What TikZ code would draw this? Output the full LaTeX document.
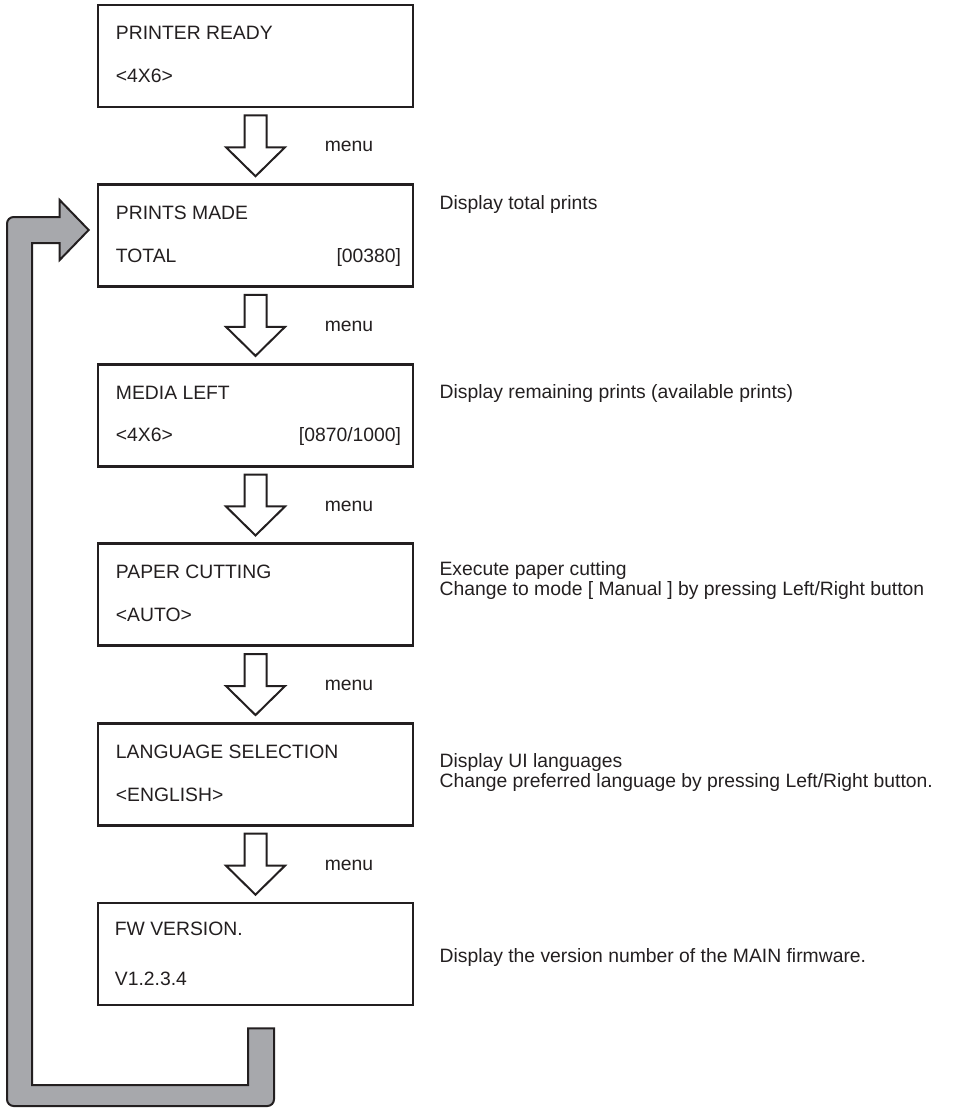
\documentclass[tikz,border=0pt]{standalone}
\usepackage{fontspec}
\setmainfont{Liberation Sans}
\usetikzlibrary{calc}
\definecolor{ink}{HTML}{231F20}
\definecolor{retgray}{HTML}{A7A8AC}
\tikzset{
  box/.style={draw=ink, line width=2pt, minimum width=236.25pt, minimum height=76.5pt, inner sep=0pt, fill=white},
  txt/.style={text=ink, inner sep=0pt, font=\fontsize{14.5pt}{15pt}\selectfont},
  flow/.style={draw=ink, line width=1.5pt, fill=white, line join=miter},
  ret/.style={draw=ink, line width=1.5pt, fill=retgray, line join=miter},
}
\newcommand\menuarrow[2]{%
  \draw[flow] ($(#1.south)+(-11,7)$) -- ($(#1.south)+(11,7)$) -- ($(#2.north)+(11,-36)$) -- ($(#2.north)+(29.5,-36)$) -- ($(#2.north)+(0,-7)$) -- ($(#2.north)+(-29.5,-36)$) -- ($(#2.north)+(-11,-36)$) -- cycle;
  \node[txt, anchor=base] (m#2) at ($(#1.south)!0.5!(#2.north)+(93.5,6)$) {menu};}
\begin{document}
\begin{tikzpicture}[x=0.75pt, y=-0.75pt]
\useasboundingbox (0,0) rectangle (966,1108);
% boxes
\node[box] (b1) at (255.5,56) {};
\node[box] (b2) at (255.5,235.6) {};
\node[box] (b3) at (255.5,415.2) {};
\node[box] (b4) at (255.5,594.8) {};
\node[box] (b5) at (255.5,774.4) {};
\node[box] (b6) at (255.5,954) {};
% box texts
\node[txt, anchor=base west] (b1a) at ($(b1.north west)+(19,36)$) {PRINTER READY};
\node[txt, anchor=base west] (b1b) at ($(b1.north west)+(19,79)$) {<4X6>};
\node[txt, anchor=base west] (b2a) at ($(b2.north west)+(19,36)$) {PRINTS MADE};
\node[txt, anchor=base west] (b2b) at ($(b2.north west)+(19,79)$) {TOTAL};
\node[txt, anchor=base east] (b2c) at ($(b2.north east)+(-13,79)$) {[00380]};
\node[txt, anchor=base west] (b3a) at ($(b3.north west)+(19,37)$) {MEDIA LEFT};
\node[txt, anchor=base west] (b3b) at ($(b3.north west)+(19,79)$) {<4X6>};
\node[txt, anchor=base east] (b3c) at ($(b3.north east)+(-13,79)$) {[0870/1000]};
\node[txt, anchor=base west] (b4a) at ($(b4.north west)+(19,36)$) {PAPER CUTTING};
\node[txt, anchor=base west] (b4b) at ($(b4.north west)+(19,79)$) {<AUTO>};
\node[txt, anchor=base west] (b5a) at ($(b5.north west)+(19,36)$) {LANGUAGE SELECTION};
\node[txt, anchor=base west] (b5b) at ($(b5.north west)+(19,79)$) {<ENGLISH>};
\node[txt, anchor=base west] (b6a) at ($(b6.north west)+(18,34)$) {FW VERSION.};
\node[txt, anchor=base west] (b6b) at ($(b6.north west)+(18,84)$) {V1.2.3.4};
% descriptions
\node[txt, anchor=base west] (d2) at ($(b2.north east)+(25,26.5)$) {Display total prints};
\node[txt, anchor=base west] (d3) at ($(b3.north east)+(25,36)$) {Display remaining prints (available prints)};
\node[txt, anchor=base west] (d4a) at ($(b4.north east)+(25,33.5)$) {Execute paper cutting};
\node[txt, anchor=base west] (d4b) at ($(b4.north east)+(25,53)$) {Change to mode [ Manual ] by pressing Left/Right button};
\node[txt, anchor=base west] (d5a) at ($(b5.north east)+(25,45)$) {Display UI languages};
\node[txt, anchor=base west] (d5b) at ($(b5.north east)+(25,65)$) {Change preferred language by pressing Left/Right button.};
\node[txt, anchor=base west] (d6) at ($(b6.north east)+(25,61)$) {Display the version number of the MAIN firmware.};
% menu arrows
\menuarrow{b1}{b2}
\menuarrow{b2}{b3}
\menuarrow{b3}{b4}
\menuarrow{b4}{b5}
\menuarrow{b5}{b6}
% return arrow
\coordinate (tip) at ($(b2.west)+(-8,-5.6)$);
\coordinate (tail) at ($(b6.south)+(5.5,22)$);
\draw[ret] (tip) -- ++(-29,-30) -- ++(0,17) -- ++(-15,0) [rounded corners=5pt] -- (7,217) -- (7,1106) -- (274,1106) -- (274,1080) [sharp corners] -- ($(tail)+(13,0)$) -- ($(tail)+(-13,0)$) -- (248,1085) -- (32,1085) -- (32,243) -- ($(tip)+(-29,13)$) -- ($(tip)+(-29,30)$) -- cycle;
\end{tikzpicture}
\end{document}
